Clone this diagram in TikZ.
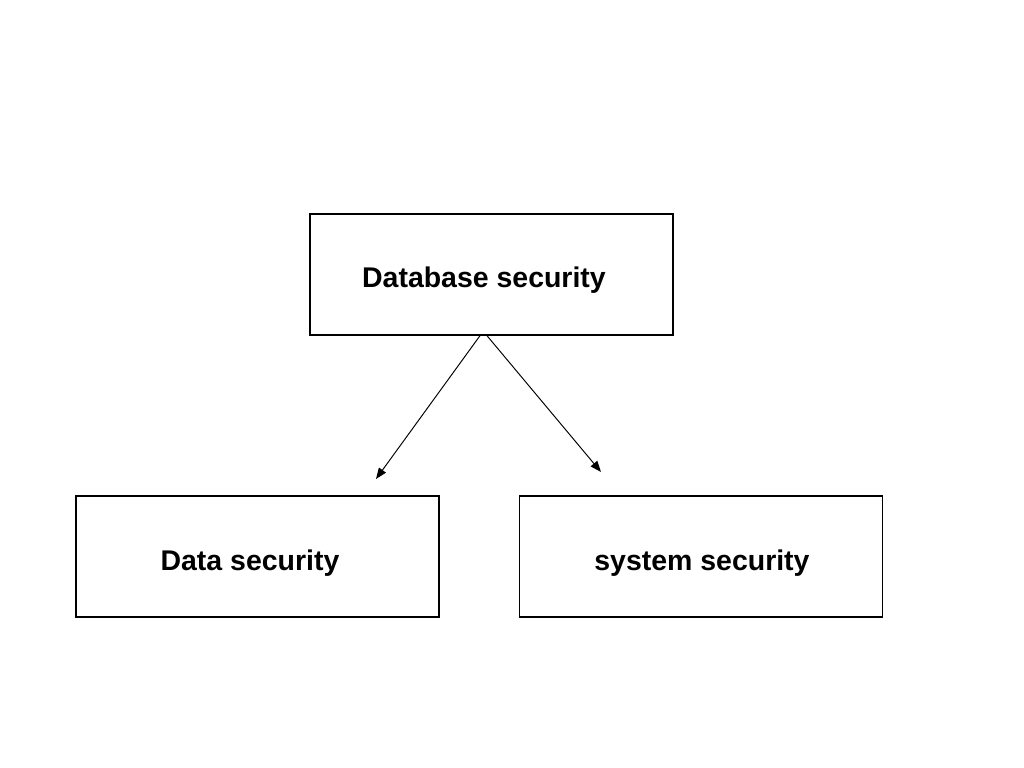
\documentclass[tikz,border=0pt]{standalone}
\usepackage{fontspec}
\setmainfont{Liberation Sans}
\usetikzlibrary{arrows.meta}

\tikzset{
  secbox/.style={draw=black, line width=0.8pt, minimum width=72.6mm, minimum height=24.2mm,
    inner sep=0pt},
  seclabel/.style={font=\fontsize{16.2}{19}\selectfont\bfseries, inner sep=0pt},
  secarrow/.style={line width=0.55pt, -{Triangle[length=2.2mm,width=1.7mm]}}
}

\begin{document}
\begin{tikzpicture}[x=0.2mm,y=-0.2mm]
\useasboundingbox (0,0) rectangle (1024,768);
\node [secbox, label={[seclabel,xshift=-1.5mm,yshift=-1.1mm]center:Database security}] (dbsec) at (491.5,274.5) {};
\node [secbox, label={[seclabel,xshift=-1.5mm,yshift=-1.4mm]center:Data security}] (datasec) at (257.5,556.5) {};
\node [secbox, label={[seclabel,xshift=0.2mm,yshift=-1.4mm]center:system security}] (syssec) at (701,556.5) {};
\coordinate (leftend) at (376,479);
\coordinate (rightend) at (601,472);
\draw [secarrow] ([xshift=-2.3mm]dbsec.south) -- (leftend);
\draw [secarrow] ([xshift=-0.9mm]dbsec.south) -- (rightend);
\end{tikzpicture}
\end{document}
